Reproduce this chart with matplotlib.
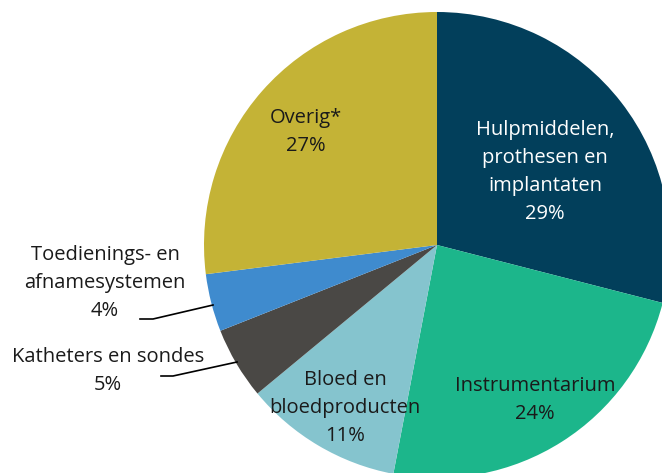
import matplotlib.pyplot as plt

plt.rcParams['font.family'] = ['Open Sans', 'DejaVu Sans']

categories = ["Hulpmiddelen,\nprothesen en\nimplantaten", "Instrumentarium",
              "Bloed en\nbloedproducten", "Katheters en sondes",
              "Toedienings- en\nafnamesystemen", "Overig*"]
shares = [29, 24, 11, 5, 4, 27]
colors = ['#023f5b', '#1cb68b', '#85c4ce', '#4a4845', '#3f8bce', '#c4b336']
text_colors = ['white', '#1a1a1a', '#1a1a1a', '#1a1a1a', '#1a1a1a', '#1a1a1a']

W, H = 662, 473
cx, cy, R = 437, 245, 233  # pie centre / radius in pixels

fig = plt.figure(figsize=(W / 100, H / 100), dpi=100)
ax = fig.add_axes([(cx - R) / W, (H - cy - R) / H, 2 * R / W, 2 * R / H])
ax.pie(shares, colors=colors, startangle=90, counterclock=False, radius=1,
       wedgeprops=dict(linewidth=0))
ax.set_xlim(-1, 1)
ax.set_ylim(-1, 1)
ax.set_aspect('equal')
ax.axis('off')

def px(x, y):
    return (x - cx) / R, (cy - y) / R

label_px = [(545, 172), (535, 400), (345, 408), (108, 371), (105, 283), (306, 132)]
for lab, val, tc, (x, y) in zip(categories, shares, text_colors, label_px):
    tx, ty = px(x, y)
    ax.text(tx, ty, f"{lab}\n{val}%", ha='center', va='center', fontsize=14.5,
            color=tc, linespacing=1.55, clip_on=False)

# leader lines for the small slices
for pts in [[(140, 319), (153, 319), (213, 305)],
            [(161, 376), (173, 376), (237, 362)]]:
    xs, ys = zip(*[px(*p) for p in pts])
    ax.plot(xs, ys, color='black', lw=1.2, clip_on=False)

fig.savefig('out.png', dpi=100)
